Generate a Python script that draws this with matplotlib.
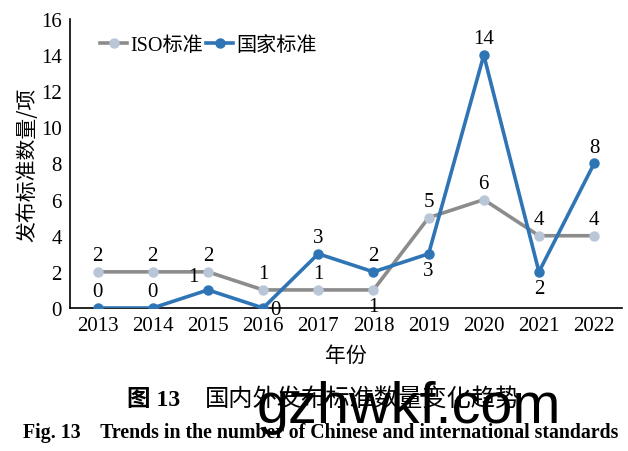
import matplotlib.pyplot as plt
import numpy as np

# data
years = ['2013', '2014', '2015', '2016', '2017', '2018', '2019', '2020', '2021', '2022']
iso_std = [2, 2, 2, 1, 1, 1, 5, 6, 4, 4]
national_std = [0, 0, 1, 0, 3, 2, 3, 14, 2, 8]
yticks = [0, 2, 4, 6, 8, 10, 12, 14, 16]

# label placement per point: 'a' above, 'b' below, 'l' upper-left, 'r' right
iso_pos = ['a', 'a', 'a', 'a', 'a', 'b', 'a', 'a', 'a', 'a']
nat_pos = ['a', 'a', 'l', 'r', 'a', 'a', 'b', 'a', 'b', 'a']

serif = ['Liberation Serif', 'Noto Sans CJK SC']
cjk = ['Noto Sans CJK SC', 'DejaVu Sans']

fig = plt.figure(figsize=(6.28, 4.52), dpi=100)
ax = fig.add_axes([0.1115, 0.3164, 0.8785, 0.6394])

x = np.arange(len(years))
ax.plot(x, iso_std, color='#8c8c8c', lw=2.6, marker='o', ms=6.5,
        mfc='#b9c6d8', mec='#b9c6d8', label='ISO标准', zorder=3)
ax.plot(x, national_std, color='#2f75b5', lw=2.6, marker='o', ms=6.5,
        mfc='#2f75b5', mec='#2f75b5', label='国家标准', zorder=4)

offsets = {'a': (0, 5, 'center', 'bottom'), 'b': (0, -5, 'center', 'top'),
           'l': (-7, 3, 'right', 'bottom'), 'r': (5, -1, 'left', 'center')}
for vals, pos in ((iso_std, iso_pos), (national_std, nat_pos)):
    for xi, v, p in zip(x, vals, pos):
        dx, dy, ha, va = offsets[p]
        ax.annotate(str(v), (xi, v), xytext=(dx, dy), textcoords='offset points',
                    ha=ha, va=va, fontsize=15, family=serif)

ax.set_xlim(-0.5, len(years) - 0.5)
ax.set_ylim(0, 16)
ax.set_xticks(x)
ax.set_xticklabels(years, family=serif, fontsize=15)
ax.set_yticks(yticks)
ax.set_yticklabels([str(t) for t in yticks], family=serif, fontsize=15)
ax.tick_params(length=0, pad=6)
for s in ['top', 'right']:
    ax.spines[s].set_visible(False)
ax.spines['left'].set_linewidth(1.2)
ax.spines['bottom'].set_linewidth(1.2)

ax.set_xlabel('年份', family=cjk, fontsize=15, labelpad=6)
ax.set_ylabel('发布标准数量/项', family=cjk, fontsize=15, labelpad=2)

ax.legend(loc='upper left', bbox_to_anchor=(0.04, 0.97), ncol=2, frameon=False,
          prop={'family': serif, 'size': 14.5}, handlelength=1.35, handletextpad=0.15,
          columnspacing=0.15, borderaxespad=0)

fig.text(127 / 628, 0.115, '图 13', ha='left', va='center',
         fontsize=17, family=['Liberation Serif', 'Noto Sans CJK SC'], weight='bold')
fig.text(205 / 628, 0.115, '国内外发布标准数量变化趋势', ha='left', va='center',
         fontsize=17.5, family=cjk)
fig.text(0.51, 0.042, 'Fig. 13    Trends in the number of Chinese and international standards',
         ha='center', va='center', fontsize=14.3, family='Liberation Serif', weight='bold')
fig.text(0.651, 0.098, 'gzhwkf.com', ha='center', va='center', fontsize=41.5,
         family='Liberation Sans', color='black')

fig.savefig('out.png', dpi=100)
